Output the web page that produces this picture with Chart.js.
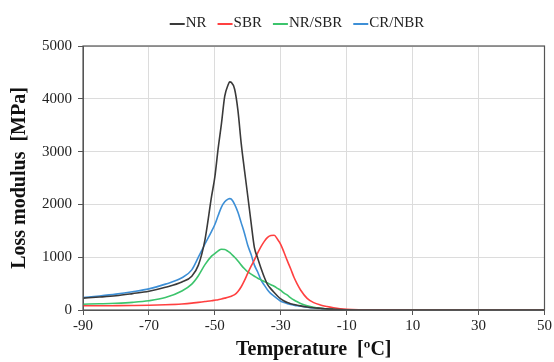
<!DOCTYPE html>
<html>
<head>
<meta charset="utf-8">
<script src="https://cdn.jsdelivr.net/npm/chart.js@4"></script>
<style>
    html, body { margin: 0; padding: 0; background: #fff; }
    #wrap { width: 554px; height: 362px; }
</style>
</head>
<body>
<div id="wrap"><canvas id="lossChart"></canvas></div>
<script>
// Temperature points [ºC]
const temps = [-90, -85, -80, -75, -70, -65, -60, -57, -55, -53, -51, -50, -49, -48, -47, -46, -45.5, -45, -44, -43, -42, -41, -40, -39, -38, -37, -36, -35, -34, -33, -32, -31, -30, -29, -28, -27, -26, -25, -24, -22, -20, -18, -16, -14, -12, -10, 0, 10, 20, 30, 40, 50];

// Loss modulus [MPa] per compound
const nr = [225, 245, 270, 310, 355, 430, 530, 640, 850, 1330, 2150, 2520, 3060, 3530, 4050, 4260, 4320, 4310, 4180, 3780, 3150, 2640, 2150, 1650, 1180, 980, 790, 620, 480, 400, 330, 265, 210, 170, 140, 120, 105, 90, 78, 57, 42, 32, 22, 15, 9, 5, 1, 0, 0, 0, 0, 0];
const sbr = [80, 80, 82, 85, 90, 100, 115, 130, 145, 160, 175, 185, 195, 210, 225, 240, 250, 262, 290, 350, 440, 560, 700, 830, 950, 1080, 1200, 1300, 1375, 1410, 1415, 1340, 1240, 1090, 930, 780, 620, 490, 380, 220, 140, 95, 65, 42, 25, 15, 2, 0, 0, 0, 0, 0];
const nrSbr = [110, 118, 128, 145, 175, 235, 360, 490, 650, 860, 1020, 1070, 1120, 1150, 1145, 1110, 1090, 1060, 1000, 930, 850, 780, 720, 680, 640, 600, 570, 540, 510, 480, 450, 410, 370, 320, 280, 230, 190, 155, 125, 80, 50, 32, 20, 12, 7, 4, 1, 0, 0, 0, 0, 0];
const crNbr = [235, 265, 300, 345, 400, 490, 610, 760, 1000, 1250, 1490, 1620, 1790, 1950, 2050, 2100, 2110, 2100, 2000, 1850, 1650, 1450, 1220, 1050, 850, 720, 570, 470, 380, 310, 260, 210, 165, 140, 120, 105, 92, 80, 70, 52, 38, 28, 19, 13, 8, 4, 1, 0, 0, 0, 0, 0];

const seriesNames = ['NR', 'SBR', 'NR/SBR', 'CR/NBR'];
const seriesColors = ['#3a3a3a', '#ff4040', '#3cc46c', '#3d8fd6'];

const serif = 'Liberation Serif, Times New Roman, serif';

function toPoints(values) {
    return temps.map((t, i) => ({ x: t, y: values[i] }));
}

// Dark frame around the plot area
const frame = {
    id: 'frame',
    afterDraw(chart) {
        const a = chart.chartArea;
        const ctx = chart.ctx;
        ctx.save();
        ctx.strokeStyle = '#555';
        ctx.lineWidth = 1.2;
        ctx.strokeRect(a.left, a.top, a.right - a.left, a.bottom - a.top);
        ctx.restore();
    }
};

// Legend like the original: short line, text right after it
const lineLegend = {
    id: 'lineLegend',
    afterDraw(chart) {
        const ctx = chart.ctx;
        const lineW = 15, gap = 1, itemGap = 11, y = 23;
        ctx.save();
        ctx.font = '15px ' + serif;
        ctx.textBaseline = 'middle';
        const widths = chart.data.datasets.map(ds => lineW + gap + ctx.measureText(ds.label).width);
        const total = widths.reduce((a, b) => a + b, 0) + itemGap * (widths.length - 1);
        let x = chart.width / 2 + 20 - total / 2;
        chart.data.datasets.forEach((ds, i) => {
            ctx.strokeStyle = ds.borderColor;
            ctx.lineWidth = 2;
            ctx.beginPath();
            ctx.moveTo(x, y + 1);
            ctx.lineTo(x + lineW, y + 1);
            ctx.stroke();
            ctx.fillStyle = '#222';
            ctx.fillText(ds.label, x + lineW + gap, y);
            x += widths[i] + itemGap;
        });
        ctx.restore();
    }
};

const ctx = document.getElementById('lossChart').getContext('2d');
new Chart(ctx, {
    type: 'line',
    data: {
        datasets: [nr, sbr, nrSbr, crNbr].map((vals, i) => ({
            label: seriesNames[i],
            data: toPoints(vals),
            borderColor: seriesColors[i],
            backgroundColor: seriesColors[i],
            borderWidth: 1.6,
            pointRadius: 0,
            cubicInterpolationMode: 'monotone',
            fill: false
        }))
    },
    options: {
        responsive: true,
        maintainAspectRatio: false,
        animation: false,
        layout: { padding: { left: 8, right: -3, top: 46, bottom: 0 } },
        plugins: {
            legend: { display: false },
            tooltip: { enabled: false }
        },
        scales: {
            x: {
                type: 'linear',
                min: -90,
                max: 50,
                ticks: { stepSize: 20, color: '#222', font: { family: serif, size: 15 }, padding: 2 },
                grid: { color: '#dcdcdc', tickColor: '#555', tickLength: 5 },
                border: { color: '#555' },
                title: {
                    display: true,
                    text: 'Temperature  [ºC]',
                    color: '#111',
                    font: { family: serif, size: 20, weight: 'bold' },
                    padding: { top: 1, bottom: 0 }
                }
            },
            y: {
                min: 0,
                max: 5000,
                ticks: {
                    stepSize: 1000,
                    color: '#222',
                    font: { family: serif, size: 15 },
                    padding: 6,
                    callback: v => String(v)
                },
                grid: { color: '#dcdcdc', tickColor: '#555', tickLength: 5 },
                border: { color: '#555' },
                title: {
                    display: true,
                    text: 'Loss modulus  [MPa]',
                    color: '#111',
                    font: { family: serif, size: 20, weight: 'bold' },
                    padding: { top: 0, bottom: 4 }
                }
            }
        }
    },
    plugins: [frame, lineLegend]
});
</script>
</body>
</html>
